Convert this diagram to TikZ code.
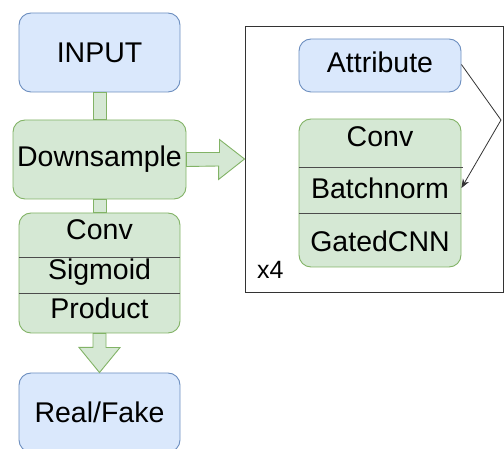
\documentclass[tikz,border=0pt]{standalone}
\usepackage{fontspec}
\setmainfont{Liberation Sans}
\usetikzlibrary{arrows.meta}
\definecolor{bfill}{HTML}{DAE8FC}
\definecolor{bline}{HTML}{6C8EBF}
\definecolor{gfill}{HTML}{D5E8D4}
\definecolor{gline}{HTML}{82B366}

\begin{document}
\begin{tikzpicture}[x=1pt,y=-1pt,
  bigtext/.style={font=\fontsize{28.5}{32}\selectfont},
  box/.style={draw, rounded corners=12pt, line width=0.9pt, inner sep=0pt, bigtext},
  bluebox/.style={box, fill=bfill, draw=bline},
  greenbox/.style={box, fill=gfill, draw=gline},
  lbl/.style={bigtext, inner sep=0pt, anchor=base},
  pipe/.style={fill=gfill, draw=gline, line width=0.9pt},
  sep/.style={draw=black!70, line width=0.9pt},
  link/.style={draw=black!80, line width=0.8pt, -{Stealth[length=9pt,width=7pt]}}]
\useasboundingbox (0,0) rectangle (504,449);

% ---- left column ----
\node[bluebox, minimum width=161pt, minimum height=79pt] (input) at (99.5,52.5) {INPUT};
\node[greenbox, minimum width=173pt, minimum height=79pt] (down) at (99.5,159.5) {Downsample};
\node[greenbox, minimum width=161pt, minimum height=120pt] (gate) at (99.5,273) {};
\node[bluebox, minimum width=161pt, minimum height=79pt] (out) at (99.5,412.5) {Real/Fake};

% pipes joining the column
\draw[pipe] ([xshift=-6.5pt]input.south) rectangle ([xshift=6.5pt]down.north);
\draw[pipe] ([xshift=-6.5pt]down.south) rectangle ([xshift=6.5pt]gate.north);

% gated block rows
\draw[sep] (gate.west |- 0,257) -- (gate.east |- 0,257);
\draw[sep] (gate.west |- 0,293) -- (gate.east |- 0,293);
\node[lbl] (gconv) at (99.5,240) {Conv};
\node[lbl] (gsig) at (99.5,280) {Sigmoid};
\node[lbl] (gprod) at (99.5,319) {Product};

% block arrow down to the output
\draw[pipe] ([xshift=-6.5pt]gate.south) -- ++(0,14) -- ++(-14,0)
  -- (out.north) -- ++(20.5,-25) -- ++(-14,0) -- ([xshift=6.5pt]gate.south) -- cycle;

% ---- repeated block ----
\node[draw=black!80, line width=0.9pt, minimum width=258pt, minimum height=266pt, inner sep=0pt] (frame) at (374,159) {};

% block arrow into the repeated block
\draw[pipe] ([yshift=7pt]down.east) -- ++(33,0) -- ++(0,-13) -- (frame.west)
  -- ++(-26,20.5) -- ++(0,-13.5) -- ([yshift=-7pt]down.east) -- cycle;

\node[bluebox, minimum width=162pt, minimum height=53pt] (attr) at (380,65.5) {};
\node[lbl] at (380,73) {Attribute};
\node[greenbox, minimum width=162pt, minimum height=148pt] (blk) at (380,193) {};
\draw[sep] (blk.west |- 0,167) -- ([xshift=2pt]blk.east |- 0,167);
\draw[sep] (blk.west |- 0,213) -- (blk.east |- 0,213);
\node[lbl] (bconv) at (380,147) {Conv};
\node[lbl] (bnorm) at (380,199) {Batchnorm};
\node[lbl] (bgate) at (380,252) {GatedCNN};

\coordinate (bend) at (501,120);
\draw[link] ([yshift=1pt]attr.east) -- (bend) -- (blk.east |- 0,188);

\node[font=\fontsize{25}{28}\selectfont, inner sep=0pt, anchor=base west] (rep) at (257,279) {x4};
\end{tikzpicture}
\end{document}
